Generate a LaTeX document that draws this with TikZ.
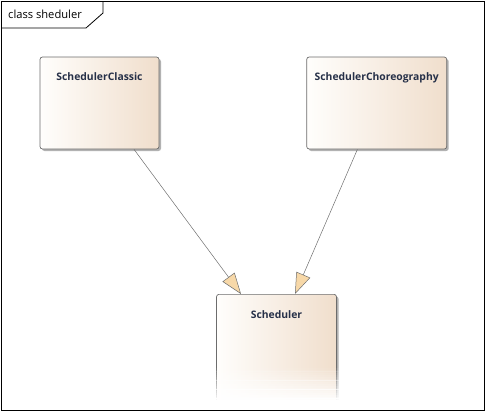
\documentclass[tikz,border=0pt]{standalone}
\usepackage{fontspec}
\setmainfont{Open Sans}
\usetikzlibrary{positioning, arrows.meta, calc, shadows}

\definecolor{boxtan}{RGB}{240,222,204}
\definecolor{boxlight}{RGB}{255,254,252}
\definecolor{boxline}{RGB}{108,108,108}
\definecolor{namecol}{RGB}{38,48,72}
\definecolor{genfill}{RGB}{247,216,168}
\definecolor{genline}{RGB}{110,110,110}

\begin{document}
\begin{tikzpicture}[
    x=1bp, y=1bp,
    class box/.style={
        draw=boxline, rounded corners=2.5bp, line width=0.7bp,
        left color=boxlight, middle color=boxlight!75!boxtan, right color=boxtan,
        minimum width=#1, minimum height=92bp, inner sep=0pt,
        drop shadow={shadow xshift=2bp, shadow yshift=-2bp, opacity=0.3, fill=black}
    },
    class name/.style={font=\bfseries\fontsize{10.4}{12}\selectfont, text=namecol,
        anchor=base, yshift=-24bp, inner sep=0pt},
    gen/.style={-{Triangle[length=21bp, width=15bp, fill=genfill]}, draw=genline, line width=0.5bp},
    frame tab/.style={font=\fontsize{11.2}{13}\selectfont, text=black}
]

% fixes the page to the reference size
\useasboundingbox (0,0) rectangle (485,-412);

% ------------------------------------------------------------------------------
% 1. FRAME
% ------------------------------------------------------------------------------
\draw[line width=0.8bp] (1,-1) rectangle (484,-410.5);
\draw[line width=0.8bp] (103,-1) -- (103,-13) -- (86,-28) -- (1,-28);
\node[frame tab, anchor=west, inner sep=0pt] (title) at (8,-14) {class sheduler};

% ------------------------------------------------------------------------------
% 2. CLASSES
% ------------------------------------------------------------------------------
\node[class box=119bp, label={[class name]north:SchedulerClassic}] (classic) at (99.5,-103) {};
\node[class box=140bp, label={[class name]north:SchedulerChoreography}, right=147bp of classic] (choreo) {};
\node[class box=120bp, minimum height=114bp, anchor=north,
      label={[class name]north:Scheduler}] (sched) at (276.5,-294) {};

% bottom of Scheduler fades out (strips of rising opacity)
\foreach \i in {0,...,19} {
    \fill[white, opacity=\i/19] (213,-366-1.8*\i) rectangle (343,-367.9-1.8*\i);
}
\fill[white] (213,-401) rectangle (343,-409.8);

% ------------------------------------------------------------------------------
% 3. GENERALIZATIONS
% ------------------------------------------------------------------------------
\draw[gen] ([xshift=34.5bp]classic.south) -- ([xshift=-35.5bp]sched.north);
\draw[gen] ([xshift=-19.3bp]choreo.south) -- ([xshift=18.5bp]sched.north);

\end{tikzpicture}
\end{document}
